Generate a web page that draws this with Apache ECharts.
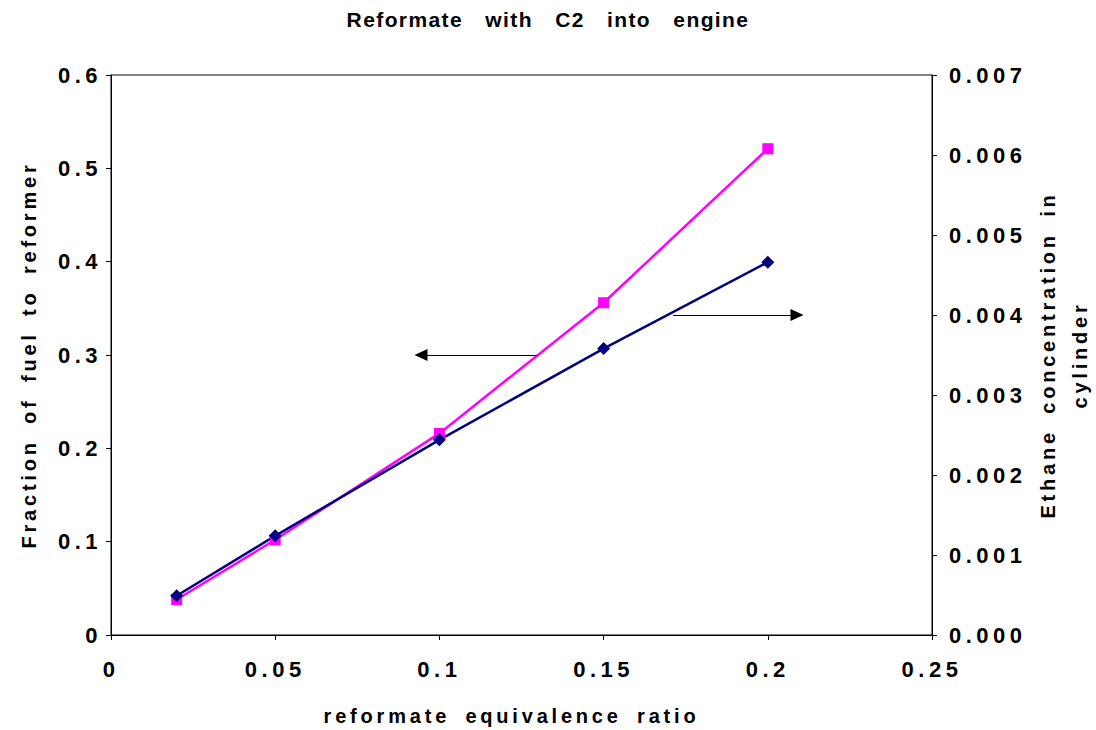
<!DOCTYPE html>
<html>
<head>
<meta charset="utf-8">
<script src="https://cdn.jsdelivr.net/npm/echarts@6/dist/echarts.min.js"></script>
<style>
html,body{margin:0;padding:0;background:#fff;}
#chart{width:1096px;height:730px;}
</style>
</head>
<body>
<div id="chart"></div>
<script>
var titleText = 'Reformate with C2 into engine';
var xName = 'reformate equivalence ratio';
var leftName = 'Fraction of fuel to reformer';
var rightName = 'Ethane concentration in\ncylinder';
var ratio = [0.02, 0.05, 0.1, 0.15, 0.2];
var fuelFraction = [0.038, 0.102, 0.216, 0.356, 0.521];
var ethaneConc = [0.00049, 0.00124, 0.00244, 0.00358, 0.00466];

var FONT = '"Liberation Sans", Arial, sans-serif';
var chart = echarts.init(document.getElementById('chart'), null, { renderer: 'svg' });
function pairs(xs, ys) { return xs.map(function (x, i) { return [x, ys[i]]; }); }

var tickLabel = { fontFamily: FONT, fontWeight: 'bold', fontSize: 22, color: '#000' };
var nameStyle = { fontFamily: FONT, fontWeight: 'bold', fontSize: 20, color: '#000' };

chart.setOption({
  animation: false,
  backgroundColor: '#ffffff',
  title: {
    text: titleText, left: 'center', top: 4,
    textStyle: { fontFamily: FONT, fontWeight: 'bold', fontSize: 21, color: '#000' }
  },
  grid: { left: 111, right: 164, top: 75, bottom: 95, containLabel: false, outerBoundsMode: 'none',
    show: true, borderColor: '#000', borderWidth: 1, backgroundColor: 'transparent' },
  xAxis: {
    type: 'value', min: 0, max: 0.25, interval: 0.05,
    name: xName, nameLocation: 'middle', nameGap: 71,
    nameTextStyle: Object.assign({ padding: [0, 20, 0, 0] }, nameStyle),
    axisLine: { lineStyle: { color: '#000', width: 1 } },
    axisTick: { show: true, length: 5, lineStyle: { color: '#000' } },
    axisLabel: Object.assign({ margin: 23 }, tickLabel),
    splitLine: { show: false }
  },
  yAxis: [{
    type: 'value', min: 0, max: 0.6, interval: 0.1, position: 'left',
    name: leftName, nameLocation: 'middle', nameGap: 72, nameRotate: 90,
    nameTextStyle: nameStyle,
    axisLine: { show: true, lineStyle: { color: '#000', width: 1 } },
    axisTick: { show: true, length: 5, lineStyle: { color: '#000' } },
    axisLabel: Object.assign({ margin: 9 }, tickLabel),
    splitLine: { show: false }
  }, {
    type: 'value', min: 0, max: 0.007, interval: 0.001, position: 'right',
    name: rightName, nameLocation: 'middle', nameGap: 100, nameRotate: 90,
    nameTextStyle: Object.assign({ lineHeight: 32 }, nameStyle),
    axisLine: { show: true, lineStyle: { color: '#000', width: 1 } },
    axisTick: { show: true, length: 5, lineStyle: { color: '#000' } },
    axisLabel: Object.assign({ margin: 17, formatter: function (v) { return v.toFixed(3); } }, tickLabel),
    splitLine: { show: false }
  }],
  series: [{
    name: leftName, type: 'line', yAxisIndex: 0,
    data: pairs(ratio, fuelFraction),
    symbol: 'rect', symbolSize: 11,
    lineStyle: { color: '#ff00ff', width: 2.5 },
    itemStyle: { color: '#ff00ff' },
    markLine: {
      silent: true, symbol: ['none', 'triangle'], symbolSize: [12, 13],
      lineStyle: { color: '#000', width: 1, type: 'solid' },
      label: { show: false },
      data: [[{ coord: [0.1297, 0.3] }, { coord: [0.0944, 0.3] }]]
    }
  }, {
    name: 'Ethane', type: 'line', yAxisIndex: 1,
    data: pairs(ratio, ethaneConc),
    symbol: 'diamond', symbolSize: 13,
    lineStyle: { color: '#000080', width: 2.5 },
    itemStyle: { color: '#000080' },
    markLine: {
      silent: true, symbol: ['none', 'triangle'], symbolSize: [12, 13],
      lineStyle: { color: '#000', width: 1, type: 'solid' },
      label: { show: false },
      data: [[{ coord: [0.1711, 0.004] }, { coord: [0.2089, 0.004] }]]
    }
  }]
});

function applySpacing() {
  var texts = document.querySelectorAll('#chart text');
  texts.forEach(function (t) {
    var s = t.textContent || '';
    var ls = 4.5, ws = 0;
    if (s === titleText) { ls = 1.4; ws = 15; }
    else if (/[a-zA-Z]/.test(s)) { ls = 3.8; ws = 6; }
    t.setAttribute('letter-spacing', ls + 'px');
    t.setAttribute('word-spacing', ws + 'px');
  });
}
chart.on('finished', applySpacing);
applySpacing();
setTimeout(applySpacing, 0);
setTimeout(applySpacing, 100);
</script>
</body>
</html>
